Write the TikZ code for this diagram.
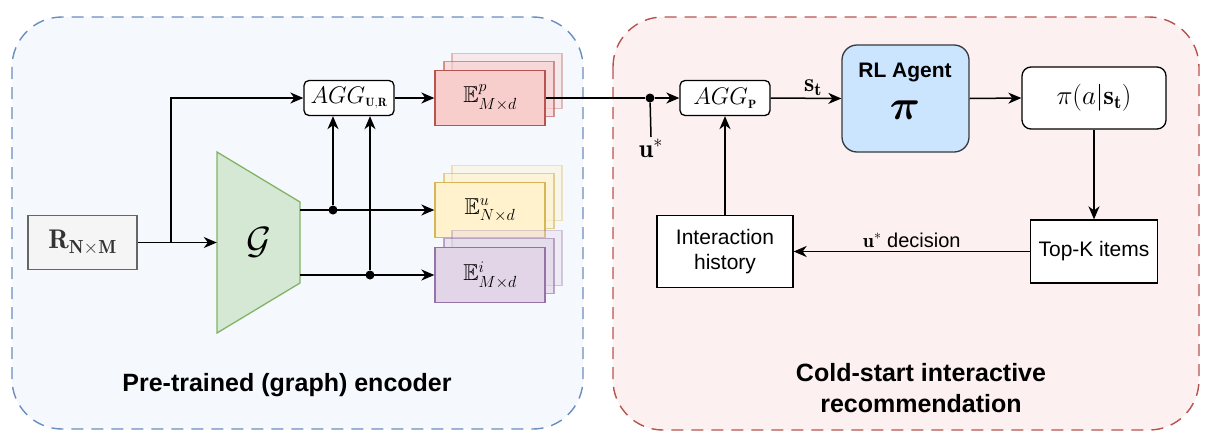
\RequirePackage{fix-cm}
\documentclass[tikz,border=0pt]{standalone}
\usepackage{fontspec}
\usepackage{amsmath,amssymb,bm}
\usepackage{tikz}
\usetikzlibrary{arrows.meta}
\newfontfamily\diofont{Liberation Sans}

\definecolor{leftbg}{HTML}{F5F8FD}
\definecolor{leftline}{HTML}{6C8EBF}
\definecolor{rightbg}{HTML}{FCF0F0}
\definecolor{rightline}{HTML}{B85450}
\definecolor{rfill}{HTML}{F5F5F5}
\definecolor{rline}{HTML}{666666}
\definecolor{rtext}{HTML}{333333}
\definecolor{gfill}{HTML}{D5E8D4}
\definecolor{gline}{HTML}{82B366}
\definecolor{pfill}{HTML}{F8CECC}
\definecolor{pline}{HTML}{B85450}
\definecolor{ufill}{HTML}{FFF2CC}
\definecolor{uline}{HTML}{D6B656}
\definecolor{ifill}{HTML}{E1D5E7}
\definecolor{iline}{HTML}{9673A6}
\definecolor{agentfill}{HTML}{CCE5FF}
\definecolor{agentline}{HTML}{36393D}

% three stacked embedding tables: name, centre, fill, line, label
\newcommand{\embstack}[5]{
  \filldraw[shift={(#2)}, line width=1.3pt, fill=#3, draw=#4, opacity=0.35] (-38,-44.5) rectangle ++(110,55);
  \filldraw[shift={(#2)}, line width=1.3pt, fill=#3, draw=#4, opacity=0.6] (-46,-36.5) rectangle ++(110,55);
  \node[emb, fill=#3, draw=#4] (#1) at (#2) {#5};
}

\begin{document}
\begin{tikzpicture}[x=1pt, y=-1pt,
    conn/.style={line width=1.5pt, -{Stealth[length=13pt,width=11pt,inset=4pt]}},
    wire/.style={line width=1.5pt},
    panel/.style={line width=1.4pt, dash pattern=on 12pt off 8pt, rounded corners=50pt},
    aggbox/.style={draw, line width=1.3pt, fill=white, rounded corners=5pt,
      minimum width=90pt, minimum height=35pt, inner sep=0pt, font=\fontsize{24}{28}\selectfont},
    plainbox/.style={draw, line width=1.3pt, fill=white, align=center, inner sep=0pt,
      font=\diofont\fontsize{21}{25}\selectfont},
    emb/.style={line width=1.3pt, minimum width=110pt, minimum height=55pt, inner sep=0pt,
      font=\fontsize{23}{27}\selectfont},
    mathlbl/.style={font=\fontsize{26}{30}\selectfont, inner sep=2pt},
    paneltitle/.style={font=\diofont\bfseries\fontsize{25}{31}\selectfont, align=center},
    junction/.style={circle, fill=black, inner sep=0pt, minimum size=9pt},
  ]
  \useasboundingbox (0,0) rectangle (1213,445);

  % the two panels
  \filldraw[panel, fill=leftbg, draw=leftline] (12,17) rectangle (583,429);
  \filldraw[panel, fill=rightbg, draw=rightline] (613,17) rectangle (1199,430);
  \node[paneltitle] (enctitle) at (287,385) {Pre-trained (graph) encoder};
  \node[paneltitle] (rectitle) at (921,388) {Cold-start interactive\\recommendation};

  % encoder
  \node[draw=rline, fill=rfill, line width=1.3pt, minimum width=109pt, minimum height=54pt,
    text=rtext, font=\fontsize{27}{31}\selectfont] (rmat) at (82.5,242.5) {$\mathbf{R}_{\mathbf{N\times M}}$};
  \filldraw[fill=gfill, draw=gline, line width=1.3pt] (217,152) -- (300,202) -- (300,283) -- (217,333) -- cycle;
  \node[minimum width=83pt, minimum height=181pt, inner sep=0pt, font=\fontsize{38}{42}\selectfont]
    (gnn) at (258.5,242.5) {$\mathcal{G}$};
  \node[aggbox] (aggur) at (349,98) {$AGG_{\scriptscriptstyle\mathbf{U,R}}$};

  \embstack{ep}{490,98}{pfill}{pline}{$\mathbb{E}^{p}_{M\times d}$}
  \embstack{eu}{490,210}{ufill}{uline}{$\mathbb{E}^{u}_{N\times d}$}
  \embstack{ei}{490,275}{ifill}{iline}{$\mathbb{E}^{i}_{M\times d}$}

  \coordinate (split) at (171,242.5);
  \coordinate (gout1) at ([yshift=32.5pt]gnn.east);
  \coordinate (gout2) at ([yshift=-32.5pt]gnn.east);
  \node[junction] (j1) at (333,210) {};
  \node[junction] (j2) at (370,275) {};

  \draw[conn] (rmat.east) -- (gnn.west);
  \draw[conn] (split) |- (aggur.west);
  \draw[conn] (gout1) -- (eu.west);
  \draw[conn] (gout2) -- (ei.west);
  \draw[conn] (j1) -- (j1 |- aggur.south);
  \draw[conn] (j2) -- (j2 |- aggur.south);
  \draw[conn] (aggur.east) -- (ep.west);

  % interactive recommendation
  \node[junction] (j3) at (650,98) {};
  \node[mathlbl, anchor=north] (ustar) at (651,137) {$\mathbf{u}^{*}$};
  \node[aggbox] (aggp) at (725,98) {$AGG_{\scriptscriptstyle\mathbf{P}}$};
  \node[draw=agentline, fill=agentfill, line width=1.3pt, rounded corners=15pt,
    minimum width=127pt, minimum height=107pt] (agent) at (905.5,98.5) {};
  \node[font=\diofont\bfseries\fontsize{21}{25}\selectfont] (agentname) at (905,72) {RL Agent};
  \node[font=\fontsize{42}{46}\selectfont] (agentpi) at (905,110) {$\bm{\pi}$};
  \node[aggbox, rounded corners=9pt, minimum width=144pt, minimum height=62pt,
    font=\fontsize{27}{31}\selectfont] (policy) at (1094,98) {$\pi(a|\mathbf{s_t})$};
  \node[plainbox, minimum width=127pt, minimum height=63pt] (topk) at (1094,251.5) {Top-K items};
  \node[plainbox, minimum width=136pt, minimum height=72pt] (history) at (725,251.5) {Interaction\\history};

  \draw[wire] (ep.east) -- (j3);
  \draw[wire] (j3) -- (ustar.north);
  \draw[conn] (j3) -- (aggp.west);
  \draw[conn] (aggp.east) -- node[mathlbl, above, pos=0.6] {$\mathbf{s_t}$} (agent.west);
  \draw[conn] (agent.east) -- (policy.west);
  \draw[conn] (policy.south) -- (topk.north);
  \draw[conn] (topk.west) -- node[above, font=\diofont\fontsize{20}{24}\selectfont]
    {$\mathbf{u}^{*}$ decision} (history.east);
  \draw[conn] (history.north) -- (aggp.south);
\end{tikzpicture}
\end{document}
